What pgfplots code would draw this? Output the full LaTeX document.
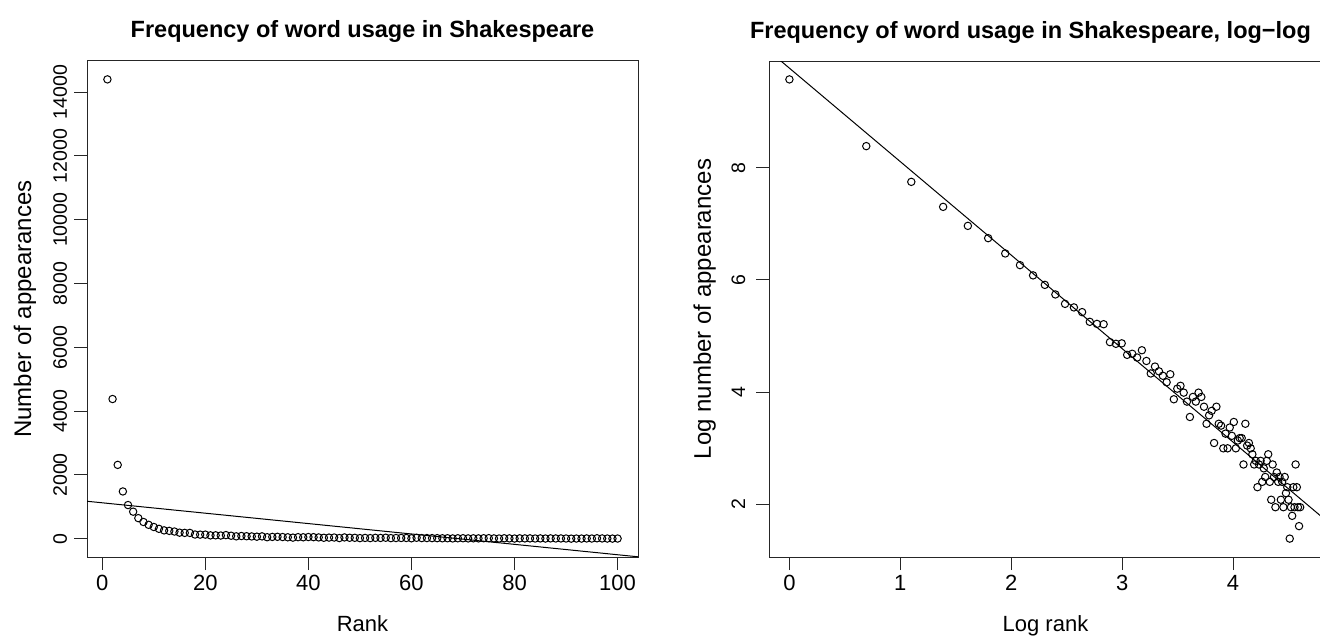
\documentclass[border=0pt]{standalone}
\usepackage{pgfplots}
\pgfplotsset{compat=1.18}
\usepackage{fontspec}
\setmainfont{Liberation Sans}
\begin{document}
\begin{tikzpicture}
\useasboundingbox (0pt,0pt) rectangle (1320pt,638pt);
\pgfplotsset{
 rstyle/.style={
  scale only axis, height=496pt,
  axis line style={line width=1pt, black!85},
  every tick/.style={line width=1pt, black!85},
  major tick length=13pt, tick align=outside, tick pos=left,
  /pgf/number format/assume math mode=true,
  /pgf/number format/set thousands separator={},
  scaled ticks=false,
  xticklabel style={font=\fontsize{22}{22}\selectfont, anchor=base, yshift=-20pt},
  xlabel style={font=\fontsize{22}{22}\selectfont, at={(axis description cs:0.5,0)}, anchor=base, yshift=-74pt},
  title style={font=\bfseries\fontsize{23.5}{23.5}\selectfont, at={(axis description cs:0.5,1)}, anchor=base, yshift=17pt},
  every axis plot/.append style={black},
 }
}
\begin{axis}[rstyle, at={(87pt,81pt)}, anchor=south west, width=551pt,
  xmin=-2.96, xmax=103.96, ymin=-572, ymax=14976,
  xtick={0,20,40,60,80,100}, ytick={0,2000,4000,6000,8000,10000,12000,14000},
  yticklabel style={font=\fontsize{19.5}{19.5}\selectfont, xshift=-7pt, rotate=90, anchor=base},
  title={Frequency of word usage in Shakespeare},
  xlabel={Rank},
  ylabel={Number of appearances},
  ylabel style={font=\fontsize{24}{24}\selectfont, at={(axis description cs:-0.1016,0.5)}, anchor=base},
]
\addplot[only marks, mark=o, mark size=3.7pt, mark options={line width=1pt}] coordinates {
(1,14400) (2,4380) (3,2316) (4,1483) (5,1057) (6,849) (7,646) (8,525) (9,437) (10,369)
(11,311) (12,263) (13,247) (14,227) (15,191) (16,184) (17,183) (18,133) (19,129) (20,130)
(21,106) (22,108) (23,101) (24,115) (25,95) (26,76) (27,86) (28,79) (29,73) (30,65)
(31,75) (32,48) (33,58) (34,61) (35,54) (36,46) (37,35) (38,50) (39,46) (40,54)
(41,50) (42,42) (43,31) (44,36) (45,39) (46,22) (47,42) (48,31) (49,30) (50,20)
(51,26) (52,20) (53,29) (54,25) (55,32) (56,20) (57,23) (58,24) (59,24) (60,15)
(61,31) (62,21) (63,22) (64,20) (65,18) (66,15) (67,16) (68,10) (69,15) (70,16)
(71,11) (72,14) (73,12) (74,16) (75,18) (76,11) (77,8) (78,15) (79,12) (80,7)
(81,13) (82,11) (83,12) (84,8) (85,11) (86,7) (87,12) (88,9) (89,10) (90,8)
(91,4) (92,7) (93,6) (94,10) (95,7) (96,15) (97,10) (98,7) (99,5) (100,7)
};
\addplot[line width=1pt] coordinates {(-10,1290) (110,-664)};
\end{axis}
\begin{axis}[rstyle, at={(769pt,81pt)}, anchor=south west, width=553pt,
  xmin=-0.184, xmax=4.802, ymin=1.058, ymax=9.903,
  xtick={0,1,2,3,4}, ytick={2,4,6,8},
  yticklabel style={font=\fontsize{19.5}{19.5}\selectfont, xshift=-11pt, rotate=90, anchor=base},
  title={Frequency of word usage in Shakespeare, log\textminus log},
  title style={xshift=-15pt},
  xlabel={Log rank},
  ylabel={Log number of appearances},
  ylabel style={font=\fontsize{24}{24}\selectfont, at={(axis description cs:-0.105,0.5)}, anchor=base},
]
\addplot[only marks, mark=o, mark size=3.7pt, mark options={line width=1pt}] coordinates {
(0,9.575) (0.693,8.385) (1.099,7.748) (1.386,7.302) (1.609,6.963) (1.792,6.744) (1.946,6.471) (2.079,6.263) (2.197,6.080) (2.303,5.911)
(2.398,5.740) (2.485,5.572) (2.565,5.509) (2.639,5.425) (2.708,5.252) (2.773,5.215) (2.833,5.209) (2.890,4.890) (2.944,4.860) (2.996,4.868)
(3.045,4.663) (3.091,4.682) (3.135,4.615) (3.178,4.745) (3.219,4.554) (3.258,4.331) (3.296,4.454) (3.332,4.369) (3.367,4.290) (3.401,4.174)
(3.434,4.317) (3.466,3.871) (3.497,4.060) (3.526,4.111) (3.555,3.989) (3.584,3.829) (3.611,3.555) (3.638,3.912) (3.664,3.829) (3.689,3.989)
(3.714,3.912) (3.738,3.738) (3.761,3.434) (3.784,3.584) (3.807,3.664) (3.829,3.091) (3.850,3.738) (3.871,3.434) (3.892,3.401) (3.912,2.996)
(3.932,3.258) (3.951,2.996) (3.970,3.367) (3.989,3.219) (4.007,3.466) (4.025,2.996) (4.043,3.135) (4.060,3.178) (4.078,3.178) (4.094,2.708)
(4.111,3.434) (4.127,3.045) (4.143,3.091) (4.159,2.996) (4.174,2.890) (4.190,2.708) (4.205,2.773) (4.220,2.303) (4.234,2.708) (4.248,2.773)
(4.263,2.398) (4.277,2.639) (4.290,2.485) (4.304,2.773) (4.317,2.890) (4.331,2.398) (4.344,2.079) (4.357,2.708) (4.369,2.485) (4.382,1.946)
(4.394,2.565) (4.407,2.398) (4.419,2.485) (4.431,2.079) (4.443,2.398) (4.454,1.946) (4.466,2.485) (4.477,2.197) (4.489,2.303) (4.500,2.079)
(4.511,1.386) (4.522,1.946) (4.533,1.792) (4.543,2.303) (4.554,1.946) (4.564,2.708) (4.575,2.303) (4.585,1.946) (4.595,1.609) (4.605,1.946)
};
\addplot[line width=1pt] coordinates {(-0.5,10.609) (5,1.44)};
\end{axis}
\end{tikzpicture}
\end{document}
